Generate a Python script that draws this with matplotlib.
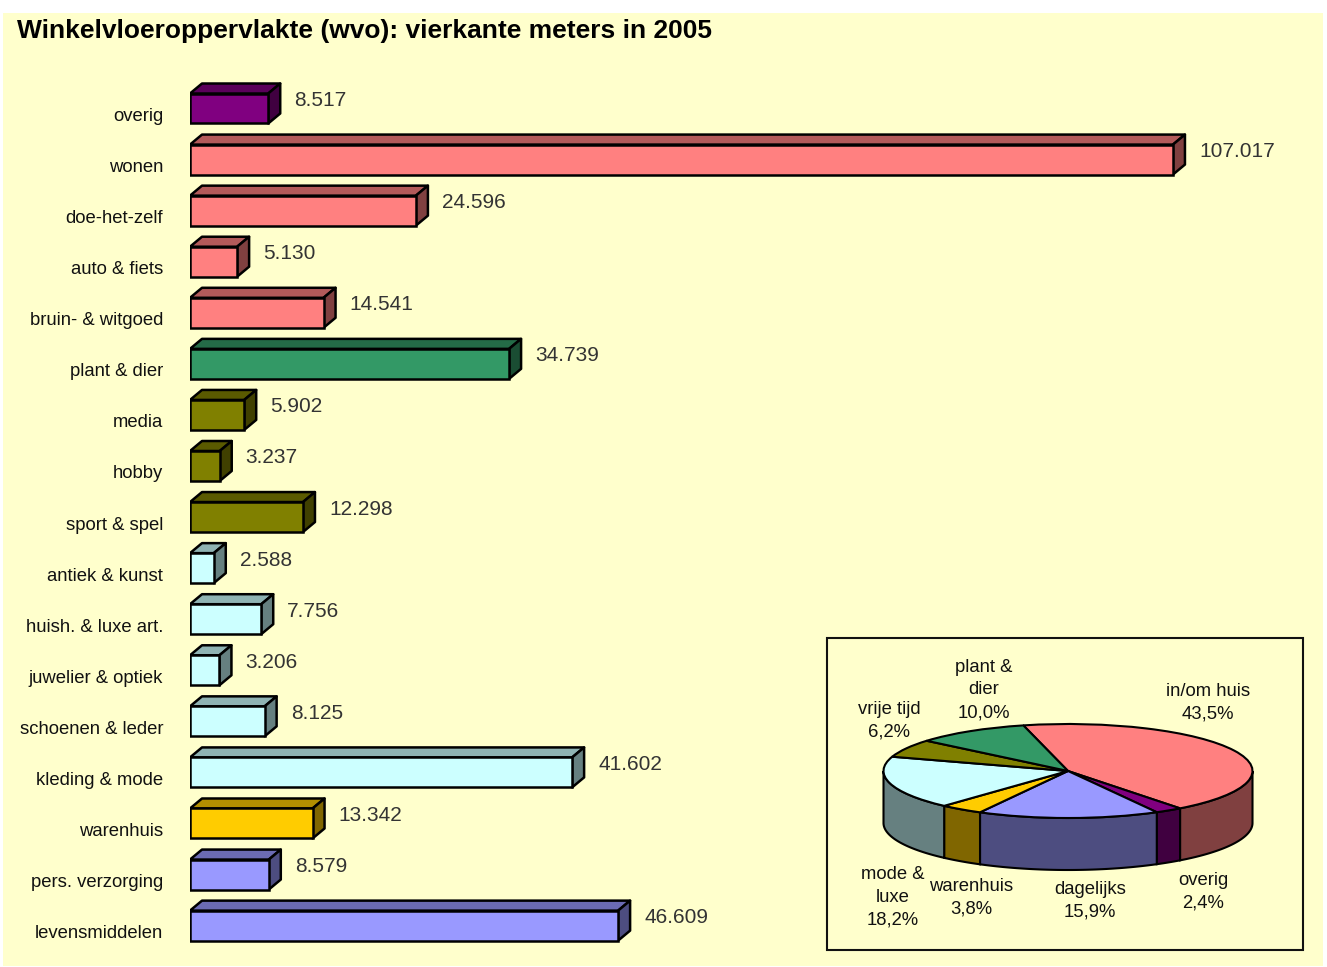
import matplotlib
matplotlib.use("Agg")
import matplotlib.pyplot as plt
from matplotlib.patches import Polygon, Rectangle
from matplotlib.colors import to_rgb
import numpy as np

plt.rcParams['font.family'] = ['Liberation Sans', 'DejaVu Sans']

# data: winkelvloeroppervlakte per branche (x 1000 m2)
categorieen = ["overig", "wonen", "doe-het-zelf", "auto & fiets", "bruin- & witgoed",
               "plant & dier", "media", "hobby", "sport & spel", "antiek & kunst",
               "huish. & luxe art.", "juwelier & optiek", "schoenen & leder",
               "kleding & mode", "warenhuis", "pers. verzorging", "levensmiddelen"]
waarden = [8.517, 107.017, 24.596, 5.130, 14.541, 34.739, 5.902, 3.237, 12.298,
           2.588, 7.756, 3.206, 8.125, 41.602, 13.342, 8.579, 46.609]
groep = ["overig", "in/om huis", "in/om huis", "in/om huis", "in/om huis",
         "plant & dier", "vrije tijd", "vrije tijd", "vrije tijd",
         "mode & luxe", "mode & luxe", "mode & luxe", "mode & luxe", "mode & luxe",
         "warenhuis", "dagelijks", "dagelijks"]

pie_labels = ["in/om huis", "overig", "dagelijks", "warenhuis", "mode &\nluxe",
              "vrije tijd", "plant &\ndier"]
pie_groepen = ["in/om huis", "overig", "dagelijks", "warenhuis", "mode & luxe",
               "vrije tijd", "plant & dier"]
pie_pct = [43.5, 2.4, 15.9, 3.8, 18.2, 6.2, 10.0]

kleur = {"overig": "#800080", "in/om huis": "#FF8080", "plant & dier": "#339966",
         "vrije tijd": "#808000", "mode & luxe": "#CCFFFF", "warenhuis": "#FFCC00",
         "dagelijks": "#9999FF"}


def donker(c, f):
    return tuple(v * f for v in to_rgb(c))


W, H = 1327, 967
BG = "#FFFFCC"
fig = plt.figure(figsize=(W / 100, H / 100), dpi=100, facecolor="white")
fig.patches.append(Rectangle((3 / W, 1 - 966 / H), 1320 / W, 953 / H,
                             transform=fig.transFigure, facecolor=BG,
                             edgecolor="none", zorder=-10))

fig.text(17 / W, 1 - 31 / H, "Winkelvloeroppervlakte (wvo): vierkante meters in 2005",
         fontsize=19, fontweight="bold", va="center", ha="left")

# ---- 3D staafdiagram ----
px_per_unit = 9.185
pitch = 51.07
ax = fig.add_axes([190 / W, 1 - 955 / H, 1110 / W, 885 / H])
ax.set_xlim(0, 1110 / px_per_unit)
top_idx = (70 - 108.5) / pitch
ax.set_ylim(top_idx + 885 / pitch, top_idx)
ax.axis("off")

h = 0.587 / 2
dx = 12 / px_per_unit
dy = 10 / pitch
lw = 1.8
for i, (cat, v, g) in enumerate(zip(categorieen, waarden, groep)):
    c = kleur[g]
    ax.barh(i, v, height=2 * h, color=c, edgecolor="black", linewidth=lw, zorder=3)
    top = Polygon([(0, i - h), (dx, i - h - dy), (v + dx, i - h - dy), (v, i - h)],
                  closed=True, facecolor=donker(c, 0.7), edgecolor="black",
                  linewidth=lw, joinstyle="round", zorder=2)
    side = Polygon([(v, i - h), (v + dx, i - h - dy), (v + dx, i + h - dy), (v, i + h)],
                   closed=True, facecolor=donker(c, 0.5), edgecolor="black",
                   linewidth=lw, joinstyle="round", zorder=2)
    ax.add_patch(top)
    ax.add_patch(side)
    ax.text(v + 26 / px_per_unit, i - 8 / pitch, f"{v:.3f}", fontsize=15,
            color="#333333", va="center", ha="left")
    ax.text(-27 / 1110, i + 8 / pitch, cat, fontsize=13.3, color="#111111",
            va="center", ha="right", transform=ax.get_yaxis_transform())

# ---- kader voor taartdiagram ----
fig.patches.append(Rectangle((827 / W, 1 - 950 / H), 476 / W, 312 / H,
                             transform=fig.transFigure, facecolor="none",
                             edgecolor="#111111", linewidth=1.5, zorder=5))

# ---- 3D taartdiagram ----
cx, cy, rx, ry, depth = 1068, 771, 184.5, 47, 52
pax = fig.add_axes([(cx - rx) / W, 1 - (cy + ry + depth) / H, 2 * rx / W,
                    (2 * ry + depth) / H])
d = depth / ry
pie_kleuren = [kleur[g] for g in pie_groepen]
wedges, _ = pax.pie(pie_pct, colors=pie_kleuren, startangle=104, counterclock=False,
                    wedgeprops=dict(edgecolor="black", linewidth=1.5))
for w in wedges:
    w.set_zorder(3)
pax.set_aspect("auto")
pax.set_xlim(-1, 1)
pax.set_ylim(-1 - d, 1)
pax.axis("off")

start = 104.0
for p, c in zip(pie_pct, pie_kleuren):
    a = start
    b = start - p * 3.6
    start = b
    for k in (-1, 0, 1):
        lo = max(b, -180 + 360 * k)
        hi = min(a, 360 * k)
        if hi <= lo:
            continue
        t = np.radians(np.linspace(lo, hi, 80))
        pts = list(zip(np.cos(t), np.sin(t))) + list(zip(np.cos(t[::-1]), np.sin(t[::-1]) - d))
        pax.add_patch(Polygon(pts, closed=True, facecolor=donker(c, 0.5),
                              edgecolor="black", linewidth=1.5, zorder=2,
                              clip_on=False))

label_pos = [(1208, 703), (1203, 892), (1090, 901), (971, 898), (893, 897),
             (889, 721), (984, 690)]
for lab, p, (lx, ly) in zip(pie_labels, pie_pct, label_pos):
    txt = lab + "\n" + f"{p:.1f}%".replace(".", ",")
    fig.text(lx / W, 1 - ly / H, txt, fontsize=13.3, ha="center", va="center",
             multialignment="center", linespacing=1.45, color="#111111")

fig.savefig("out.png", dpi=100, facecolor="white")
